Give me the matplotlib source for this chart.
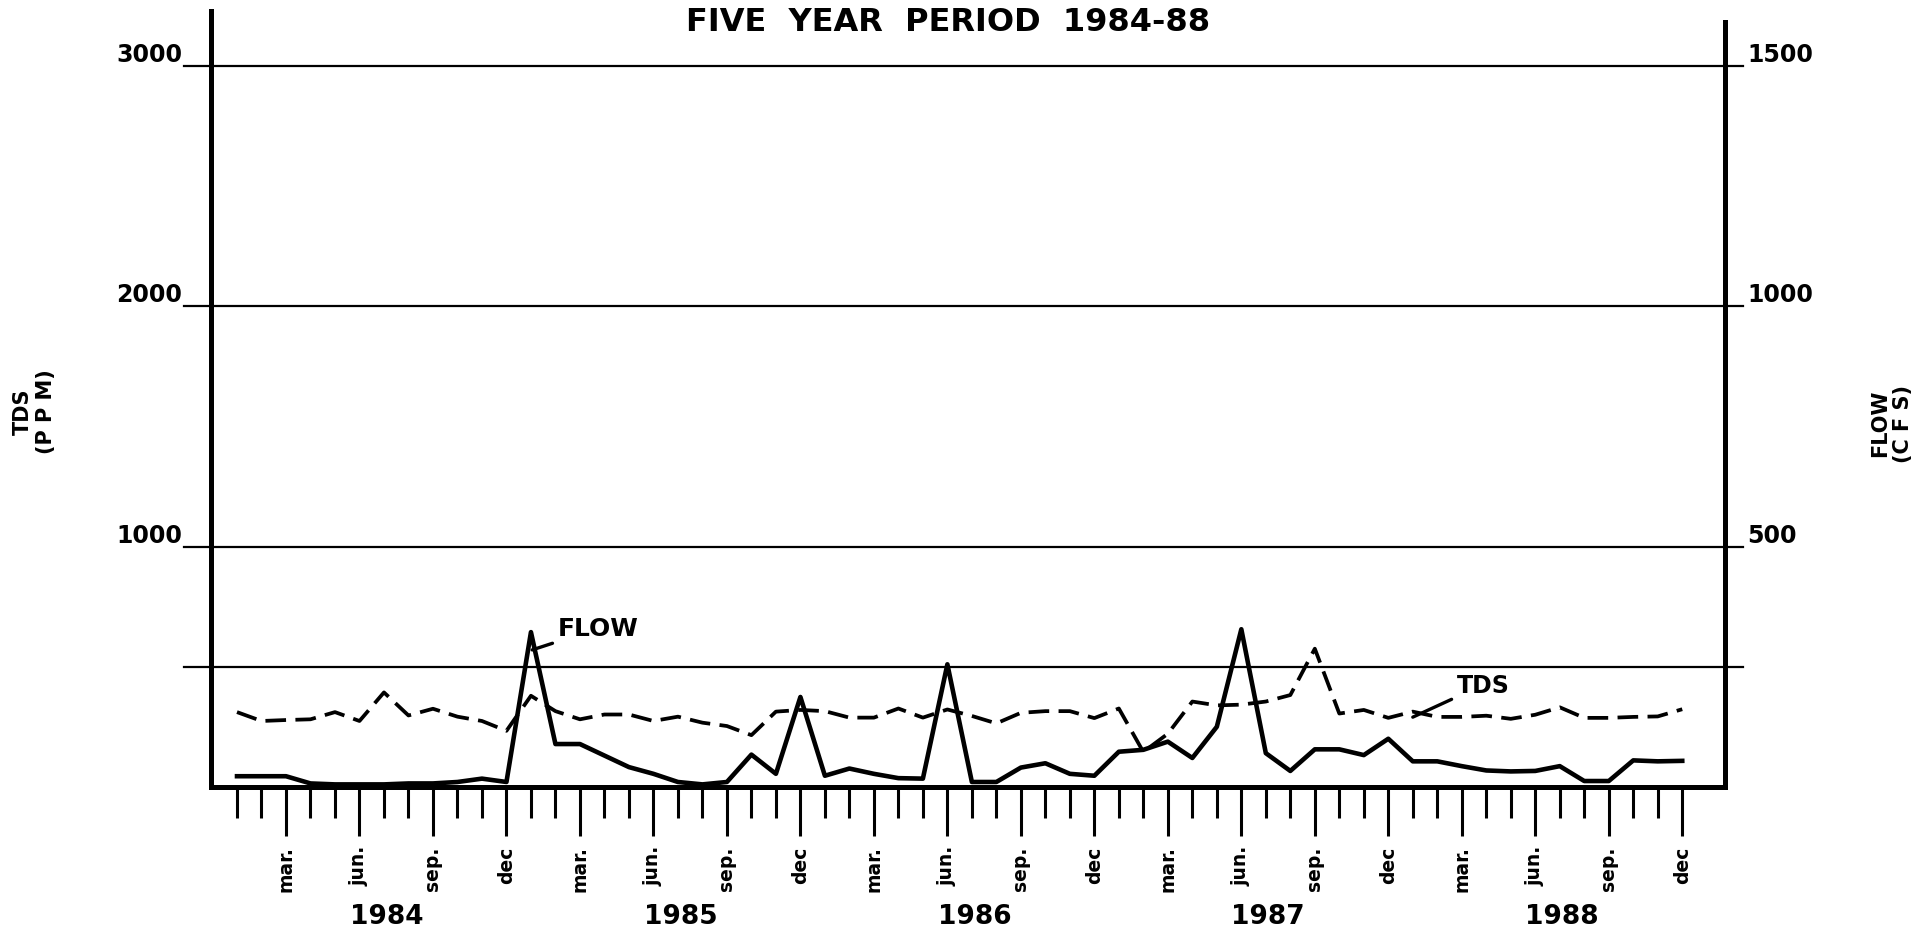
import matplotlib
matplotlib.use("Agg")
import matplotlib.pyplot as plt
import matplotlib.transforms as mtransforms

# ----- data (monthly, Jan 1984 .. Dec 1988) -----
tds_ppm = [311, 274, 278, 281, 311, 274, 393, 297, 325, 292, 274, 233,
           379, 315, 281, 301, 301, 274, 292, 267, 253, 215, 313, 320,
           315, 288, 288, 326, 288, 322, 295, 264, 308, 315, 315, 286,
           326, 145, 221, 355, 339, 342, 355, 382, 575, 305, 320, 287,
           313, 291, 291, 296, 283, 300, 331, 287, 287, 291, 293, 323]
flow_cfs = [22, 22, 22, 7, 5, 5, 5, 7, 7, 10, 17, 10,
            322, 89, 89, 65, 41, 27, 10, 5, 10, 67, 27, 187,
            23, 38, 27, 18, 17, 255, 10, 10, 40, 49, 27, 23,
            73, 77, 94, 60, 125, 328, 70, 33, 78, 78, 66, 100,
            53, 53, 43, 34, 32, 33, 43, 12, 12, 55, 53, 54]
years = ["1984", "1985", "1986", "1987", "1988"]
quarter_labels = ["mar.", "jun.", "sep.", "dec"]
tds_ticks = [1000, 2000, 3000]
flow_ticks = [500, 1000, 1500]
grid_levels = [500, 1000, 2000, 3000]

months = list(range(len(tds_ppm)))
label_font = ["DejaVu Sans"]

fig = plt.figure(figsize=(19.26, 9.29), dpi=100)
ax = fig.add_axes([0.1097, 0.152, 0.786, 0.835])
ax2 = ax.twinx()

TOP = 3230
ax.set_ylim(0, TOP)
ax2.set_ylim(0, TOP / 2)
ax.set_xlim(-1.05, 60.75)

# grid lines, running a little past both axes
for lvl in grid_levels:
    ax.axhline(lvl, xmin=-0.018, xmax=1.012, color="black", lw=1.6,
               clip_on=False, zorder=1)

ax.plot(months, tds_ppm, color="black", lw=2.7, ls=(0, (5.5, 2.5)), zorder=3)
ax2.plot(months, flow_cfs, color="black", lw=3.3, zorder=3)

# spines
ax.spines["top"].set_visible(False)
for sp in ax2.spines.values():
    sp.set_visible(False)
for sp in ["left", "right", "bottom"]:
    ax.spines[sp].set_linewidth(3.6)
ax.spines["right"].set_bounds(0, 3185)

# left tick labels
ax.set_yticks(tds_ticks)
ax.set_yticklabels([str(v) for v in tds_ticks], family=label_font,
                   fontsize=17, fontweight="bold")
ax.tick_params(axis="y", length=0, pad=21)
for lbl in ax.get_yticklabels():
    lbl.set_va("bottom")

# right tick labels
ax2.set_yticks(flow_ticks)
ax2.set_yticklabels([str(v) for v in flow_ticks], family=label_font,
                    fontsize=17, fontweight="bold")
ax2.tick_params(axis="y", length=0, pad=16)
for lbl in ax2.get_yticklabels():
    lbl.set_va("bottom")

# month ticks: long labelled quarter ticks, short plain ones
major = [m for m in months if m % 3 == 2]
minor = [m for m in months if m % 3 != 2]
ax.set_xticks(major)
ax.set_xticklabels([quarter_labels[(m // 3) % 4] for m in major],
                   rotation=90, family=label_font, fontsize=13.5,
                   fontweight="bold")
ax.set_xticks(minor, minor=True)
ax.tick_params(axis="x", which="major", length=35, width=2.2,
               direction="out", pad=7)
ax.tick_params(axis="x", which="minor", length=22, width=2.2,
               direction="out")

# year labels under the month ticks
trans = mtransforms.blended_transform_factory(ax.transData, ax.transAxes)
for k, yr in enumerate(years):
    ax.text(6.1 + 12 * k, -0.167, yr, transform=trans, ha="center",
            va="center", family=label_font, fontsize=19, fontweight="bold")

# line call-outs
ax.annotate("FLOW", xy=(12.05, 570), xytext=(13.1, 660),
            ha="left", va="center", family=label_font, fontsize=18,
            fontweight="bold",
            arrowprops=dict(arrowstyle="-", lw=2.4, color="black",
                            shrinkA=2, shrinkB=0))
ax.annotate("TDS", xy=(48.0, 290), xytext=(49.8, 425),
            ha="left", va="center", family=label_font, fontsize=17,
            fontweight="bold",
            arrowprops=dict(arrowstyle="-", lw=2.4, color="black",
                            shrinkA=2, shrinkB=0))

fig.text(0.492, 0.976, "FIVE  YEAR  PERIOD  1984-88", ha="center",
         va="center", family=label_font, fontsize=23, fontweight="semibold")
fig.text(0.018, 0.557, "TDS\n(P P M)", rotation=90, ha="center", va="center",
         family=label_font, fontsize=15, fontweight="bold", linespacing=1.2)
fig.text(0.982, 0.544, "FLOW\n(C F S)", rotation=90, ha="center", va="center",
         family=label_font, fontsize=15, fontweight="bold", linespacing=1.2)

fig.savefig("out.png", dpi=100, facecolor="white")
